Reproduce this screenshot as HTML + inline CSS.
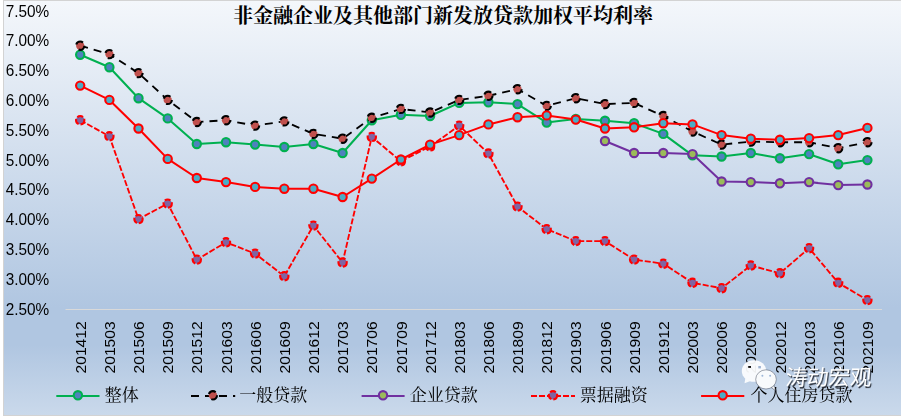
<!DOCTYPE html>
<html lang="zh"><head><meta charset="utf-8"><title>非金融企业及其他部门新发放贷款加权平均利率</title>
<style>html,body{margin:0;padding:0;background:#fff;}body{width:901px;height:417px;overflow:hidden;}svg{display:block;}text{font-family:"Liberation Sans",sans-serif;}</style>
</head><body>
<svg width="901" height="417" viewBox="0 0 901 417">
<defs><linearGradient id="bg" x1="0" y1="0" x2="0" y2="1"><stop offset="0" stop-color="#F4F7FB"/><stop offset="0.74" stop-color="#B0C6E1"/><stop offset="0.83" stop-color="#B0C6E1"/><stop offset="1" stop-color="#CAD9EB"/></linearGradient><filter id="ws" x="-10%" y="-20%" width="120%" height="150%"><feGaussianBlur stdDeviation="0.45"/></filter></defs>
<rect x="0" y="0" width="901" height="417" fill="#ffffff"/>
<rect x="3.5" y="0.5" width="900" height="415" fill="url(#bg)" stroke="#D3D3D3" stroke-width="1"/>
<text x="443" y="23" text-anchor="middle" font-size="20" font-weight="bold" fill="#000" style="font-family:'Liberation Serif','Noto Serif CJK SC',serif;">非金融企业及其他部门新发放贷款加权平均利率</text>
<g opacity="0.999">
<text transform="translate(5.7 16.70) scale(0.966 1)" font-size="15.9" fill="#000">7.50%</text>
<text transform="translate(5.7 45.55) scale(0.966 1)" font-size="15.9" fill="#000">7.00%</text>
<text transform="translate(5.7 75.70) scale(0.966 1)" font-size="15.9" fill="#000">6.50%</text>
<text transform="translate(5.7 106.10) scale(0.966 1)" font-size="15.9" fill="#000">6.00%</text>
<text transform="translate(5.7 135.60) scale(0.966 1)" font-size="15.9" fill="#000">5.50%</text>
<text transform="translate(5.7 165.60) scale(0.966 1)" font-size="15.9" fill="#000">5.00%</text>
<text transform="translate(5.7 194.70) scale(0.966 1)" font-size="15.9" fill="#000">4.50%</text>
<text transform="translate(5.7 224.50) scale(0.966 1)" font-size="15.9" fill="#000">4.00%</text>
<text transform="translate(5.7 254.60) scale(0.966 1)" font-size="15.9" fill="#000">3.50%</text>
<text transform="translate(5.7 284.80) scale(0.966 1)" font-size="15.9" fill="#000">3.00%</text>
<text transform="translate(5.7 314.50) scale(0.966 1)" font-size="15.9" fill="#000">2.50%</text>
<line x1="65.5" y1="309.5" x2="882" y2="309.5" stroke="#D9D9D9" stroke-width="1"/>
<text transform="translate(85.8 321.3) rotate(-90) scale(1.016 1)" text-anchor="end" font-size="15.4" fill="#000">201412</text>
<text transform="translate(115.0 321.3) rotate(-90) scale(1.016 1)" text-anchor="end" font-size="15.4" fill="#000">201503</text>
<text transform="translate(144.1 321.3) rotate(-90) scale(1.016 1)" text-anchor="end" font-size="15.4" fill="#000">201506</text>
<text transform="translate(173.3 321.3) rotate(-90) scale(1.016 1)" text-anchor="end" font-size="15.4" fill="#000">201509</text>
<text transform="translate(202.4 321.3) rotate(-90) scale(1.016 1)" text-anchor="end" font-size="15.4" fill="#000">201512</text>
<text transform="translate(231.6 321.3) rotate(-90) scale(1.016 1)" text-anchor="end" font-size="15.4" fill="#000">201603</text>
<text transform="translate(260.7 321.3) rotate(-90) scale(1.016 1)" text-anchor="end" font-size="15.4" fill="#000">201606</text>
<text transform="translate(289.9 321.3) rotate(-90) scale(1.016 1)" text-anchor="end" font-size="15.4" fill="#000">201609</text>
<text transform="translate(319.0 321.3) rotate(-90) scale(1.016 1)" text-anchor="end" font-size="15.4" fill="#000">201612</text>
<text transform="translate(348.2 321.3) rotate(-90) scale(1.016 1)" text-anchor="end" font-size="15.4" fill="#000">201703</text>
<text transform="translate(377.4 321.3) rotate(-90) scale(1.016 1)" text-anchor="end" font-size="15.4" fill="#000">201706</text>
<text transform="translate(406.5 321.3) rotate(-90) scale(1.016 1)" text-anchor="end" font-size="15.4" fill="#000">201709</text>
<text transform="translate(435.7 321.3) rotate(-90) scale(1.016 1)" text-anchor="end" font-size="15.4" fill="#000">201712</text>
<text transform="translate(464.8 321.3) rotate(-90) scale(1.016 1)" text-anchor="end" font-size="15.4" fill="#000">201803</text>
<text transform="translate(494.0 321.3) rotate(-90) scale(1.016 1)" text-anchor="end" font-size="15.4" fill="#000">201806</text>
<text transform="translate(523.1 321.3) rotate(-90) scale(1.016 1)" text-anchor="end" font-size="15.4" fill="#000">201809</text>
<text transform="translate(552.3 321.3) rotate(-90) scale(1.016 1)" text-anchor="end" font-size="15.4" fill="#000">201812</text>
<text transform="translate(581.4 321.3) rotate(-90) scale(1.016 1)" text-anchor="end" font-size="15.4" fill="#000">201903</text>
<text transform="translate(610.6 321.3) rotate(-90) scale(1.016 1)" text-anchor="end" font-size="15.4" fill="#000">201906</text>
<text transform="translate(639.7 321.3) rotate(-90) scale(1.016 1)" text-anchor="end" font-size="15.4" fill="#000">201909</text>
<text transform="translate(668.9 321.3) rotate(-90) scale(1.016 1)" text-anchor="end" font-size="15.4" fill="#000">201912</text>
<text transform="translate(698.1 321.3) rotate(-90) scale(1.016 1)" text-anchor="end" font-size="15.4" fill="#000">202003</text>
<text transform="translate(727.2 321.3) rotate(-90) scale(1.016 1)" text-anchor="end" font-size="15.4" fill="#000">202006</text>
<text transform="translate(756.4 321.3) rotate(-90) scale(1.016 1)" text-anchor="end" font-size="15.4" fill="#000">202009</text>
<text transform="translate(785.5 321.3) rotate(-90) scale(1.016 1)" text-anchor="end" font-size="15.4" fill="#000">202012</text>
<text transform="translate(814.7 321.3) rotate(-90) scale(1.016 1)" text-anchor="end" font-size="15.4" fill="#000">202103</text>
<text transform="translate(843.8 321.3) rotate(-90) scale(1.016 1)" text-anchor="end" font-size="15.4" fill="#000">202106</text>
<text transform="translate(873.0 321.3) rotate(-90) scale(1.016 1)" text-anchor="end" font-size="15.4" fill="#000">202109</text>
</g>
<path d="M80.2 54.7 L109.4 67.2 L138.5 98.2 L167.7 118.4 L196.8 144.0 L226.0 142.2 L255.1 144.6 L284.3 147.0 L313.4 144.0 L342.6 153.0 L371.8 120.2 L400.9 114.8 L430.1 116.0 L459.2 102.9 L488.4 102.3 L517.5 104.1 L546.7 122.6 L575.8 119.0 L605.0 120.8 L634.1 123.2 L663.3 133.9 L692.5 155.3 L721.6 156.5 L750.8 153.0 L779.9 158.3 L809.1 154.1 L838.2 164.3 L867.4 160.1" fill="none" stroke="#00B050" stroke-width="2.05" stroke-linejoin="round"/>
<g fill="#4F81BD" stroke="#00B050" stroke-width="2.1">
<circle cx="80.2" cy="54.7" r="4.15"/>
<circle cx="109.4" cy="67.2" r="4.15"/>
<circle cx="138.5" cy="98.2" r="4.15"/>
<circle cx="167.7" cy="118.4" r="4.15"/>
<circle cx="196.8" cy="144.0" r="4.15"/>
<circle cx="226.0" cy="142.2" r="4.15"/>
<circle cx="255.1" cy="144.6" r="4.15"/>
<circle cx="284.3" cy="147.0" r="4.15"/>
<circle cx="313.4" cy="144.0" r="4.15"/>
<circle cx="342.6" cy="153.0" r="4.15"/>
<circle cx="371.8" cy="120.2" r="4.15"/>
<circle cx="400.9" cy="114.8" r="4.15"/>
<circle cx="430.1" cy="116.0" r="4.15"/>
<circle cx="459.2" cy="102.9" r="4.15"/>
<circle cx="488.4" cy="102.3" r="4.15"/>
<circle cx="517.5" cy="104.1" r="4.15"/>
<circle cx="546.7" cy="122.6" r="4.15"/>
<circle cx="575.8" cy="119.0" r="4.15"/>
<circle cx="605.0" cy="120.8" r="4.15"/>
<circle cx="634.1" cy="123.2" r="4.15"/>
<circle cx="663.3" cy="133.9" r="4.15"/>
<circle cx="692.5" cy="155.3" r="4.15"/>
<circle cx="721.6" cy="156.5" r="4.15"/>
<circle cx="750.8" cy="153.0" r="4.15"/>
<circle cx="779.9" cy="158.3" r="4.15"/>
<circle cx="809.1" cy="154.1" r="4.15"/>
<circle cx="838.2" cy="164.3" r="4.15"/>
<circle cx="867.4" cy="160.1" r="4.15"/>
</g>
<path d="M80.2 45.7 L109.4 54.1 L138.5 73.1 L167.7 99.9 L196.8 122.0 L226.0 120.2 L255.1 125.6 L284.3 121.4 L313.4 133.9 L342.6 138.7 L371.8 117.8 L400.9 108.9 L430.1 112.5 L459.2 99.9 L488.4 95.8 L517.5 89.2 L546.7 105.9 L575.8 98.2 L605.0 104.1 L634.1 102.9 L663.3 116.0 L692.5 131.5 L721.6 144.6 L750.8 141.6 L779.9 142.2 L809.1 142.2 L838.2 148.2 L867.4 142.2" fill="none" stroke="#000000" stroke-width="1.85" stroke-linejoin="round" stroke-dasharray="8 6"/>
<g fill="#C0504D" stroke="#000000" stroke-width="2.1" stroke-dasharray="8 6">
<circle cx="80.2" cy="45.7" r="4.15"/>
<circle cx="109.4" cy="54.1" r="4.15"/>
<circle cx="138.5" cy="73.1" r="4.15"/>
<circle cx="167.7" cy="99.9" r="4.15"/>
<circle cx="196.8" cy="122.0" r="4.15"/>
<circle cx="226.0" cy="120.2" r="4.15"/>
<circle cx="255.1" cy="125.6" r="4.15"/>
<circle cx="284.3" cy="121.4" r="4.15"/>
<circle cx="313.4" cy="133.9" r="4.15"/>
<circle cx="342.6" cy="138.7" r="4.15"/>
<circle cx="371.8" cy="117.8" r="4.15"/>
<circle cx="400.9" cy="108.9" r="4.15"/>
<circle cx="430.1" cy="112.5" r="4.15"/>
<circle cx="459.2" cy="99.9" r="4.15"/>
<circle cx="488.4" cy="95.8" r="4.15"/>
<circle cx="517.5" cy="89.2" r="4.15"/>
<circle cx="546.7" cy="105.9" r="4.15"/>
<circle cx="575.8" cy="98.2" r="4.15"/>
<circle cx="605.0" cy="104.1" r="4.15"/>
<circle cx="634.1" cy="102.9" r="4.15"/>
<circle cx="663.3" cy="116.0" r="4.15"/>
<circle cx="692.5" cy="131.5" r="4.15"/>
<circle cx="721.6" cy="144.6" r="4.15"/>
<circle cx="750.8" cy="141.6" r="4.15"/>
<circle cx="779.9" cy="142.2" r="4.15"/>
<circle cx="809.1" cy="142.2" r="4.15"/>
<circle cx="838.2" cy="148.2" r="4.15"/>
<circle cx="867.4" cy="142.2" r="4.15"/>
</g>
<path d="M605.0 141.0 L634.1 153.0 L663.3 153.0 L692.5 154.1 L721.6 181.5 L750.8 182.1 L779.9 183.3 L809.1 182.1 L838.2 185.1 L867.4 184.5" fill="none" stroke="#7030A0" stroke-width="2.05" stroke-linejoin="round"/>
<g fill="#9BBB59" stroke="#7030A0" stroke-width="2.1">
<circle cx="605.0" cy="141.0" r="4.15"/>
<circle cx="634.1" cy="153.0" r="4.15"/>
<circle cx="663.3" cy="153.0" r="4.15"/>
<circle cx="692.5" cy="154.1" r="4.15"/>
<circle cx="721.6" cy="181.5" r="4.15"/>
<circle cx="750.8" cy="182.1" r="4.15"/>
<circle cx="779.9" cy="183.3" r="4.15"/>
<circle cx="809.1" cy="182.1" r="4.15"/>
<circle cx="838.2" cy="185.1" r="4.15"/>
<circle cx="867.4" cy="184.5" r="4.15"/>
</g>
<path d="M80.2 120.2 L109.4 136.3 L138.5 219.1 L167.7 203.6 L196.8 259.6 L226.0 242.3 L255.1 253.6 L284.3 276.2 L313.4 225.6 L342.6 262.5 L371.8 136.9 L400.9 161.3 L430.1 146.4 L459.2 125.6 L488.4 153.5 L517.5 206.6 L546.7 229.2 L575.8 241.1 L605.0 241.1 L634.1 259.6 L663.3 263.7 L692.5 282.8 L721.6 288.2 L750.8 265.5 L779.9 273.3 L809.1 248.2 L838.2 282.8 L867.4 300.1" fill="none" stroke="#FF0000" stroke-width="1.85" stroke-linejoin="round" stroke-dasharray="6 2"/>
<g fill="#8064A2" stroke="#FF0000" stroke-width="2.1" stroke-dasharray="6 2">
<circle cx="80.2" cy="120.2" r="4.15"/>
<circle cx="109.4" cy="136.3" r="4.15"/>
<circle cx="138.5" cy="219.1" r="4.15"/>
<circle cx="167.7" cy="203.6" r="4.15"/>
<circle cx="196.8" cy="259.6" r="4.15"/>
<circle cx="226.0" cy="242.3" r="4.15"/>
<circle cx="255.1" cy="253.6" r="4.15"/>
<circle cx="284.3" cy="276.2" r="4.15"/>
<circle cx="313.4" cy="225.6" r="4.15"/>
<circle cx="342.6" cy="262.5" r="4.15"/>
<circle cx="371.8" cy="136.9" r="4.15"/>
<circle cx="400.9" cy="161.3" r="4.15"/>
<circle cx="430.1" cy="146.4" r="4.15"/>
<circle cx="459.2" cy="125.6" r="4.15"/>
<circle cx="488.4" cy="153.5" r="4.15"/>
<circle cx="517.5" cy="206.6" r="4.15"/>
<circle cx="546.7" cy="229.2" r="4.15"/>
<circle cx="575.8" cy="241.1" r="4.15"/>
<circle cx="605.0" cy="241.1" r="4.15"/>
<circle cx="634.1" cy="259.6" r="4.15"/>
<circle cx="663.3" cy="263.7" r="4.15"/>
<circle cx="692.5" cy="282.8" r="4.15"/>
<circle cx="721.6" cy="288.2" r="4.15"/>
<circle cx="750.8" cy="265.5" r="4.15"/>
<circle cx="779.9" cy="273.3" r="4.15"/>
<circle cx="809.1" cy="248.2" r="4.15"/>
<circle cx="838.2" cy="282.8" r="4.15"/>
<circle cx="867.4" cy="300.1" r="4.15"/>
</g>
<path d="M80.2 85.6 L109.4 99.9 L138.5 128.5 L167.7 158.9 L196.8 178.0 L226.0 182.1 L255.1 186.9 L284.3 188.7 L313.4 188.7 L342.6 197.0 L371.8 178.6 L400.9 159.5 L430.1 144.6 L459.2 135.1 L488.4 124.4 L517.5 117.2 L546.7 115.4 L575.8 119.6 L605.0 128.5 L634.1 127.3 L663.3 123.2 L692.5 124.4 L721.6 135.1 L750.8 138.7 L779.9 139.8 L809.1 138.1 L838.2 135.1 L867.4 127.9" fill="none" stroke="#FF0000" stroke-width="2.05" stroke-linejoin="round"/>
<g fill="#4BACC6" stroke="#FF0000" stroke-width="2.1">
<circle cx="80.2" cy="85.6" r="4.15"/>
<circle cx="109.4" cy="99.9" r="4.15"/>
<circle cx="138.5" cy="128.5" r="4.15"/>
<circle cx="167.7" cy="158.9" r="4.15"/>
<circle cx="196.8" cy="178.0" r="4.15"/>
<circle cx="226.0" cy="182.1" r="4.15"/>
<circle cx="255.1" cy="186.9" r="4.15"/>
<circle cx="284.3" cy="188.7" r="4.15"/>
<circle cx="313.4" cy="188.7" r="4.15"/>
<circle cx="342.6" cy="197.0" r="4.15"/>
<circle cx="371.8" cy="178.6" r="4.15"/>
<circle cx="400.9" cy="159.5" r="4.15"/>
<circle cx="430.1" cy="144.6" r="4.15"/>
<circle cx="459.2" cy="135.1" r="4.15"/>
<circle cx="488.4" cy="124.4" r="4.15"/>
<circle cx="517.5" cy="117.2" r="4.15"/>
<circle cx="546.7" cy="115.4" r="4.15"/>
<circle cx="575.8" cy="119.6" r="4.15"/>
<circle cx="605.0" cy="128.5" r="4.15"/>
<circle cx="634.1" cy="127.3" r="4.15"/>
<circle cx="663.3" cy="123.2" r="4.15"/>
<circle cx="692.5" cy="124.4" r="4.15"/>
<circle cx="721.6" cy="135.1" r="4.15"/>
<circle cx="750.8" cy="138.7" r="4.15"/>
<circle cx="779.9" cy="139.8" r="4.15"/>
<circle cx="809.1" cy="138.1" r="4.15"/>
<circle cx="838.2" cy="135.1" r="4.15"/>
<circle cx="867.4" cy="127.9" r="4.15"/>
</g>
<line x1="56.3" y1="396.0" x2="99.5" y2="396.0" stroke="#00B050" stroke-width="2.05"/>
<circle cx="77.9" cy="395.3" r="4.15" fill="#4F81BD" stroke="#00B050" stroke-width="2.1"/>
<text x="104.7" y="401" font-size="17" fill="#000" style="font-family:'Liberation Serif','Noto Serif CJK SC',serif;">整体</text>
<line x1="191.0" y1="396.0" x2="235.2" y2="396.0" stroke="#000000" stroke-width="1.85" stroke-dasharray="8 6"/>
<circle cx="212.9" cy="395.3" r="4.15" fill="#C0504D" stroke="#000000" stroke-width="2.1" stroke-dasharray="8 6"/>
<text x="239.3" y="401" font-size="17" fill="#000" style="font-family:'Liberation Serif','Noto Serif CJK SC',serif;">一般贷款</text>
<line x1="361.6" y1="396.0" x2="404.6" y2="396.0" stroke="#7030A0" stroke-width="2.05"/>
<circle cx="383.0" cy="395.3" r="4.15" fill="#9BBB59" stroke="#7030A0" stroke-width="2.1"/>
<text x="409.7" y="401" font-size="17" fill="#000" style="font-family:'Liberation Serif','Noto Serif CJK SC',serif;">企业贷款</text>
<line x1="531.0" y1="396.0" x2="575.0" y2="396.0" stroke="#FF0000" stroke-width="1.85" stroke-dasharray="6 2"/>
<circle cx="553.0" cy="395.3" r="4.15" fill="#8064A2" stroke="#FF0000" stroke-width="2.1" stroke-dasharray="6 2"/>
<text x="579.8" y="401" font-size="17" fill="#000" style="font-family:'Liberation Serif','Noto Serif CJK SC',serif;">票据融资</text>
<line x1="701.1" y1="396.0" x2="744.3" y2="396.0" stroke="#FF0000" stroke-width="2.05"/>
<circle cx="722.7" cy="395.3" r="4.15" fill="#4BACC6" stroke="#FF0000" stroke-width="2.1"/>
<text x="750.4" y="401" font-size="17" fill="#000" style="font-family:'Liberation Serif','Noto Serif CJK SC',serif;">个人住房贷款</text>
<g id="wm">
<g opacity="0.94">
<path fill="#FCFDFE" d="M745.3 378.4 L744.5 383.3 L750.6 380.9 Z"/>
<ellipse cx="754" cy="371" rx="12.2" ry="10.8" fill="#FCFDFE"/>
</g>
<rect x="748.2" y="366.0" width="2.8" height="1.9" fill="#111"/>
<rect x="758.3" y="366.0" width="2.6" height="2.4" fill="#9DB2D2"/>
<path fill="#F8FAFC" stroke="#3a4456" stroke-opacity="0.6" stroke-width="0.8" d="M771.2 387.6 L775.4 390.5 L774.3 385.5 Z"/>
<ellipse cx="766" cy="379.4" rx="10.3" ry="9.6" fill="#F8FAFC" stroke="#3a4456" stroke-opacity="0.6" stroke-width="0.8"/>
<circle cx="762.4" cy="375.7" r="1.0" fill="#9DB6D8"/><circle cx="770.1" cy="375.7" r="1.0" fill="#9DB6D8"/>
<text transform="translate(786.1 386.1) skewX(-5)" font-size="21.5" fill="#20252e" opacity="0.9" filter="url(#ws)" style="font-family:'Liberation Sans','Noto Sans CJK SC',sans-serif;">涛动宏观</text>
<text transform="translate(785 385) skewX(-5)" font-size="21.5" fill="#fff" style="font-family:'Liberation Sans','Noto Sans CJK SC',sans-serif;">涛动宏观</text>
</g>
</svg></body></html>
